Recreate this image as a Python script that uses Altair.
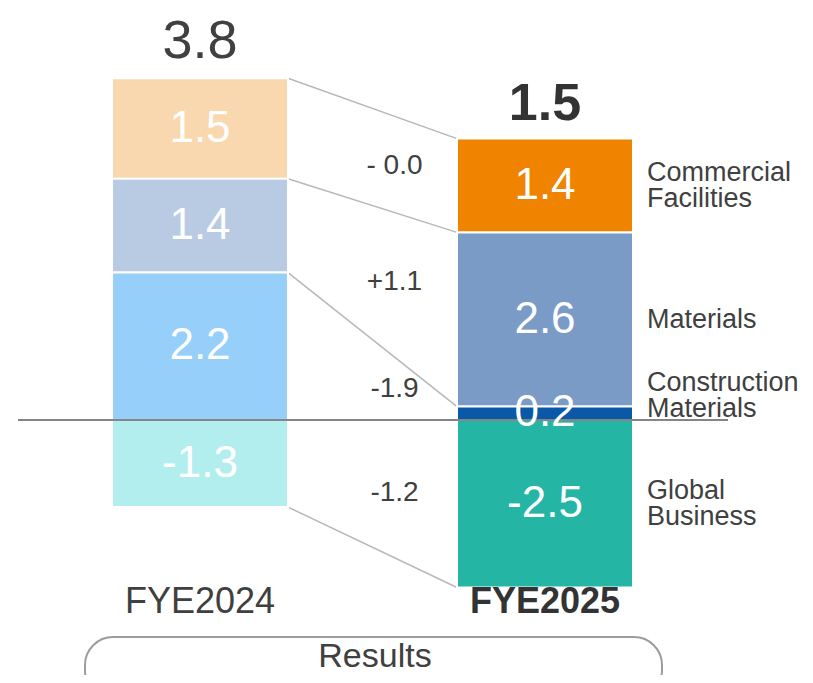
import altair as alt
import pandas as pd

FONT = "Liberation Sans"

segments = ["Commercial Facilities", "Materials", "Construction Materials", "Global Business"]
segment_labels = ["Commercial\nFacilities", "Materials", "Construction\nMaterials", "Global\nBusiness"]
years = ["FYE2024", "FYE2025"]
values_2024 = [1.5, 1.4, 2.2, -1.3]
values_2025 = [1.4, 2.6, 0.2, -2.5]
totals = [3.8, 1.5]
changes = ["- 0.0", "+1.1", "-1.9", "-1.2"]
colors_2024 = ["#F9D8AF", "#B9CBE3", "#97CFFB", "#B3EEEE"]
colors_2025 = ["#F08300", "#7B9BC7", "#0A58A8", "#25B5A5"]


def stack(vals):
    lo, hi = {}, {}
    pos, neg = 0.0, 0.0
    for i in reversed(range(len(vals))):
        v = vals[i]
        if v >= 0:
            lo[i], hi[i] = pos, pos + v
            pos += v
        else:
            lo[i], hi[i] = neg + v, neg
            neg += v
    return lo, hi, pos


rows, keys, cols, tot_rows = [], [], [], []
stacks = {}
for yi, (yr, vals, pal) in enumerate(zip(years, [values_2024, values_2025], [colors_2024, colors_2025])):
    lo, hi, top = stack(vals)
    stacks[yr] = (lo, hi)
    for i, seg in enumerate(segments):
        key = f"{yr}|{seg}"
        keys.append(key)
        cols.append(pal[i])
        rows.append(dict(year=yr, x=yi, seg=seg, cat=segment_labels[i], value=vals[i],
                         y0=lo[i], y1=hi[i], mid=(lo[i] + hi[i]) / 2,
                         thin=abs(vals[i]) < 0.5,
                         multi="\n" in segment_labels[i],
                         label=f"{vals[i]:.1f}", key=key))
    tot_rows.append(dict(year=yr, x=yi, top=top, label=f"{totals[yi]:.1f}"))

bar_df = pd.DataFrame(rows)
tot_df = pd.DataFrame(tot_rows)

conn_rows = []
lo0, hi0 = stacks[years[0]]
lo1, hi1 = stacks[years[1]]
for i, seg in enumerate(segments):
    out0 = hi0[i] if values_2024[i] >= 0 else lo0[i]
    out1 = hi1[i] if values_2025[i] >= 0 else lo1[i]
    conn_rows.append(dict(seg=seg, x0=0, x1=1, xm=0.5, out0=out0, out1=out1,
                          ymid=(lo0[i] + hi0[i] + lo1[i] + hi1[i]) / 4,
                          change=changes[i]))
conn_df = pd.DataFrame(conn_rows)
year_df = pd.DataFrame({"year": years, "x": [0, 1]})
one = pd.DataFrame({"z": [0]})

X = alt.Scale(domain=[0, 1], range=[187, 542])
Y = alt.Scale(domain=[-4, 6], range=[680, 10])
xq = lambda f: alt.X(f, type="quantitative", scale=X, axis=None)
yq = lambda f: alt.Y(f, type="quantitative", scale=Y, axis=None)

TXT = "#404040"

bars = alt.Chart(bar_df).mark_bar(size=176, stroke="white", strokeWidth=2, orient="vertical").encode(
    x=xq("x"), y=yq("y0"), y2="y1",
    color=alt.Color("key:N", scale=alt.Scale(domain=keys, range=cols), legend=None),
)

conn = alt.Chart(conn_df).mark_rule(color="#b8b8b8", strokeWidth=1.5, xOffset=88, x2Offset=-88).encode(
    x=xq("x0"), x2="x1", y=yq("out0"), y2="out1"
)

zero = alt.Chart(one).mark_rule(color="#858585", strokeWidth=2).encode(
    x=alt.value(10), x2=alt.value(720), y=yq("z")
)

seg_text = alt.Chart(bar_df).mark_text(color="white", fontSize=44, font=FONT, baseline="middle").encode(
    x=xq("x"), y=yq("mid"), text="label:N"
)

tot24 = alt.Chart(tot_df).transform_filter("datum.x == 0").mark_text(
    fontSize=54, font=FONT, color=TXT, baseline="alphabetic", dy=-20).encode(
    x=xq("x"), y=yq("top"), text="label:N")
tot25 = alt.Chart(tot_df).transform_filter("datum.x == 1").mark_text(
    fontSize=52, font=FONT, fontWeight="bold", color="#333333", baseline="alphabetic", dy=-19).encode(
    x=xq("x"), y=yq("top"), text="label:N")

delta = alt.Chart(conn_df).mark_text(fontSize=28, font=FONT, color=TXT, baseline="middle", dx=22, dy=9).encode(
    x=xq("xm"), y=yq("ymid"), text="change:N")


def cat_layer(flt, dy):
    return alt.Chart(bar_df).transform_filter(flt).mark_text(
        fontSize=27, font=FONT, color=TXT, align="left", baseline="middle", dx=102, dy=dy,
        lineBreak="\n", lineHeight=26).encode(
        x=xq("x"), y=yq("mid"), text="cat:N")


cat_single = cat_layer("datum.x == 1 && !datum.multi", 0)
cat_multi = cat_layer("datum.x == 1 && datum.multi && !datum.thin", -13)
cat_thin = cat_layer("datum.x == 1 && datum.multi && datum.thin", -30)

fye24 = alt.Chart(year_df).transform_filter("datum.x == 0").mark_text(
    fontSize=36, font=FONT, color=TXT, baseline="alphabetic").encode(
    x=xq("x"), y=alt.value(605), text="year:N")
fye25 = alt.Chart(year_df).transform_filter("datum.x == 1").mark_text(
    fontSize=36, font=FONT, fontWeight="bold", color="#333333", baseline="alphabetic").encode(
    x=xq("x"), y=alt.value(605), text="year:N")

pill = alt.Chart(one).mark_rect(cornerRadius=28, fill="white", stroke="#9c9c9c", strokeWidth=2).encode(
    x=alt.value(77), x2=alt.value(654), y=alt.value(629), y2=alt.value(690))
results = alt.Chart(pd.DataFrame({"t": ["Results"]})).mark_text(
    fontSize=34, font=FONT, color=TXT, baseline="alphabetic").encode(
    x=alt.value(367), y=alt.value(659), text="t:N")

chart = alt.layer(
    conn, bars, zero, seg_text, tot24, tot25, delta, cat_single, cat_multi, cat_thin,
    fye24, fye25, pill, results
).properties(
    width=797, height=667, padding=0, autosize=alt.AutoSizeParams(type="none")
).configure_view(stroke=None)

chart.save("out.html", embed_options={"renderer": "svg", "actions": False})
